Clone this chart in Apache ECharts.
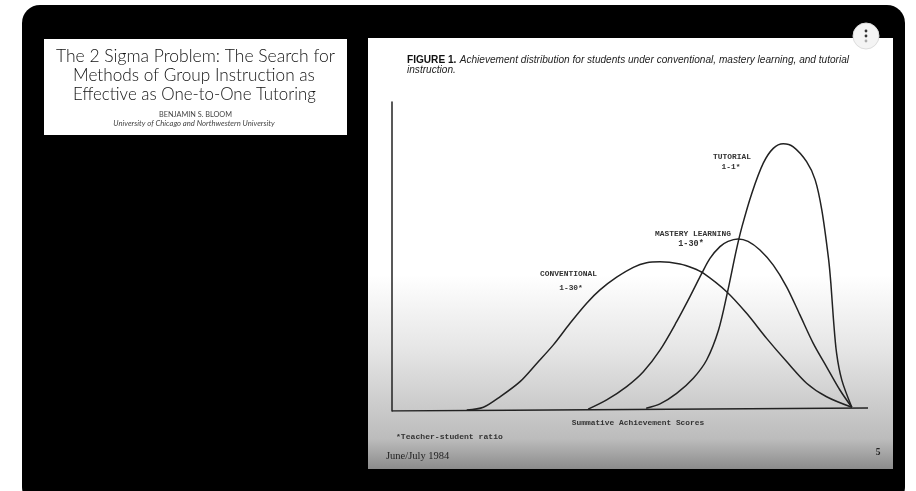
<!DOCTYPE html>
<html><head><meta charset="utf-8">
<style>html,body{margin:0;padding:0;background:#fff}#c{width:916px;height:491px}</style>
<script src="https://cdn.jsdelivr.net/npm/echarts@6/dist/echarts.min.js"></script></head>
<body><div id="c"></div>
<script>
const conventional = [[15.7,0.3],[19.2,1.2],[22.7,4.6],[26.9,9.5],[30.4,15.4],[33.9,21.4],[37.4,28.4],[40.9,34.9],[43.7,39.2],[47.2,43.3],[50.7,46.5],[53.5,48],[56.3,48.3],[60.5,47.6],[63.3,46.2],[65.4,44.6],[70.3,38.6],[74.5,31.6],[78.7,23.5],[82.9,16],[87.1,9],[91.3,4.6],[96.6,1.2]];
const mastery = [[41.2,0.6],[45.1,3.6],[49.3,7.9],[52.8,12.7],[56.3,19.7],[59.8,28.9],[62.6,37],[65.1,44.6],[66.8,49.4],[68.9,53.2],[70.6,54.9],[72.7,55.7],[74.8,54.9],[77.3,52.1],[80.1,47.2],[82.9,40.2],[85.7,31.1],[88.5,21.9],[91.3,14.3],[94.1,6.8],[96.6,1.2]];
const tutorial = [[53.4,0.9],[56.3,2.3],[59.8,5.7],[63.3,10.6],[66.1,16.5],[68.6,26.2],[70.5,38.6],[72.3,51.8],[73.5,59.5],[75.6,70.5],[78,80.2],[80.1,85],[82.2,86.5],[84.3,85.5],[87.1,80.7],[88.9,74.8],[90.3,65],[91.7,49.4],[92.2,41.3],[92.7,30.5],[93.4,18.7],[94.5,10],[96.6,1.2]];
const baseline = [[0,0],[100,1]];
const titleLines = ['The 2 Sigma Problem: The Search for','Methods of Group Instruction as','Effective as One-to-One Tutoring'];
const INK = '#222';
const line = (name,data,smooth)=>({name,type:'line',data,smooth,symbol:'none',silent:true,lineStyle:{color:INK,width:1.5}});
const mono = {fontFamily:'"Liberation Mono"',fontWeight:'bold',fill:'#333'};
const txt = (x,y,text,style)=>({type:'text',x,y,style:Object.assign({text,textAlign:'center',textVerticalAlign:'middle',fill:'#111'},style)});
const chart = echarts.init(document.getElementById('c'),null,{renderer:'canvas'});
chart.setOption({
  animation:false,
  backgroundColor:'#fff',
  grid:{left:392,top:102,width:476,height:309},
  xAxis:{type:'value',min:0,max:100,show:false},
  yAxis:{type:'value',min:0,max:100,splitLine:{show:false},axisTick:{show:false},axisLabel:{show:false},
         axisLine:{show:true,lineStyle:{color:INK,width:1.5}}},
  series:[line('Baseline',baseline,false),line('Conventional',conventional,0.3),line('Mastery learning',mastery,0.3),line('Tutorial',tutorial,0.3)],
  graphic:{elements:[
    {type:'rect',z:-10,shape:{x:22,y:5,width:883,height:500,r:18},style:{fill:'#000'}},
    {type:'rect',z:-9,shape:{x:44,y:39,width:303,height:96},style:{fill:'#fff'}},
    {type:'rect',z:-9,shape:{x:368,y:38,width:525,height:431},style:{fill:new echarts.graphic.LinearGradient(0,0,0,1,[{offset:0,color:'#fff'},{offset:0.55,color:'#fff'},{offset:0.72,color:'#e6e6e6'},{offset:0.93,color:'#bcbcbc'},{offset:1,color:'#8c8c8c'}])}},
    txt(195.5,56,titleLines[0],{fontFamily:'Lato',fontWeight:300,fontSize:17.5}),
    txt(194,75,titleLines[1],{fontFamily:'Lato',fontWeight:300,fontSize:17.2}),
    txt(194.5,95,titleLines[2],{fontFamily:'Lato',fontWeight:300,fontSize:16.9}),
    txt(195.5,114.5,'BENJAMIN S. BLOOM',{fontFamily:'Lato',fontSize:7.3,fill:'#444'}),
    txt(194,124,'University of Chicago and Northwestern University',{fontFamily:'Lato',fontStyle:'italic',fontSize:7.7,fill:'#444'}),
    {type:'text',x:407,y:60,style:{rich:{b:{fontFamily:'"Liberation Sans"',fontWeight:'bold',fontSize:10.1,fill:'#111'},i:{fontFamily:'"Liberation Sans"',fontStyle:'italic',fontSize:10.1,fill:'#222'}},text:'{b|FIGURE 1.} {i|Achievement distribution for students under conventional, mastery learning, and tutorial}',textVerticalAlign:'middle'}},
    {type:'text',x:407,y:70,style:{text:'instruction.',fontFamily:'"Liberation Sans"',fontStyle:'italic',fontSize:10.1,fill:'#222',textVerticalAlign:'middle'}},
    txt(732,157,'TUTORIAL',Object.assign({fontSize:7.9},mono)),
    txt(731,167,'1-1*',Object.assign({fontSize:7.9},mono)),
    txt(693,234,'MASTERY LEARNING',Object.assign({fontSize:7.9},mono)),
    txt(691,244,'1-30*',Object.assign({fontSize:8.5},mono)),
    txt(568.5,274,'CONVENTIONAL',Object.assign({fontSize:7.9},mono)),
    txt(571,288,'1-30*',Object.assign({fontSize:7.9},mono)),
    txt(638,423,'Summative Achievement Scores',Object.assign({fontSize:7.9},mono)),
    {type:'text',x:396,y:437,style:Object.assign({text:'*Teacher-student ratio',fontSize:8.1,textVerticalAlign:'middle'},mono)},
    {type:'text',x:386,y:456,style:{text:'June/July 1984',fontFamily:'"Liberation Serif"',fontSize:10.5,fill:'#222',textVerticalAlign:'middle'}},
    {type:'text',x:878,y:453,style:{text:'5',fontFamily:'"Liberation Serif"',fontSize:9.5,fontWeight:'bold',fill:'#222',textAlign:'center',textVerticalAlign:'middle'}},
    {type:'circle',z:20,shape:{cx:866,cy:36,r:13},style:{fill:'#f4f4f4',stroke:'#ddd',lineWidth:1}},
    {type:'circle',z:21,shape:{cx:866,cy:31,r:1.4},style:{fill:'#333'}},
    {type:'circle',z:21,shape:{cx:866,cy:36,r:1.4},style:{fill:'#333'}},
    {type:'circle',z:21,shape:{cx:866,cy:41,r:1.4},style:{fill:'#aaa'}}
  ]}
});
</script></body></html>
